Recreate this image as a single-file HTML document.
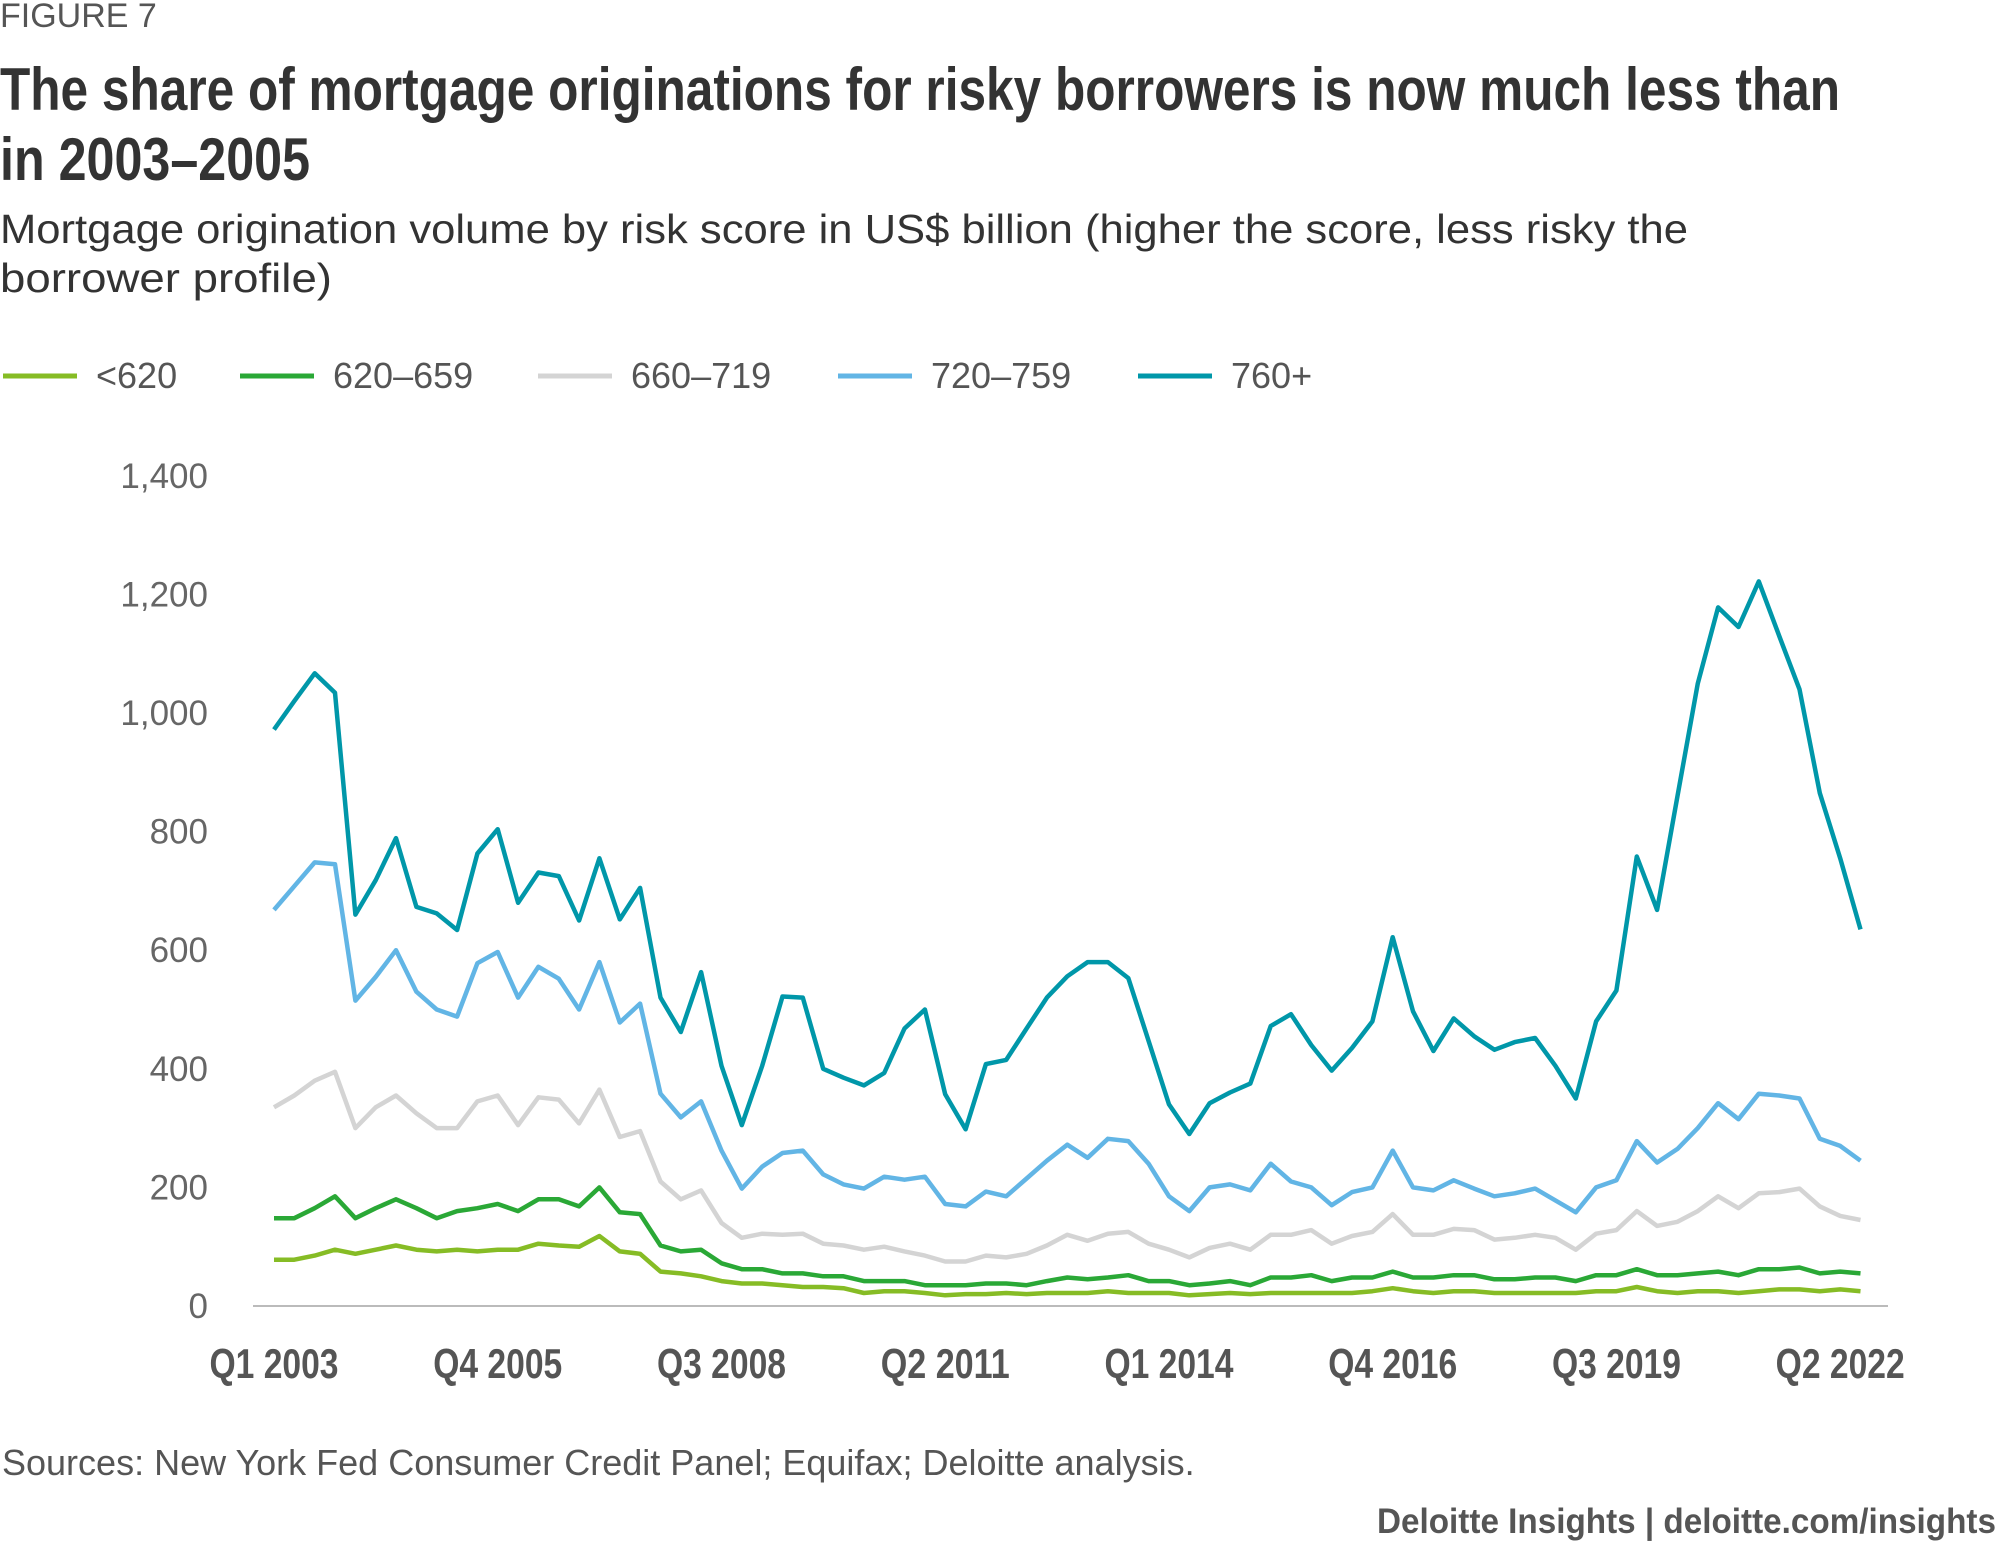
<!DOCTYPE html>
<html><head><meta charset="utf-8"><style>
html,body{margin:0;padding:0;background:#fff;}
body{width:2000px;height:1548px;position:relative;overflow:hidden;font-family:"Liberation Sans",sans-serif;}
</style></head><body>
<svg id="chart" width="2000" height="1548" style="position:absolute;left:0;top:0;" xmlns="http://www.w3.org/2000/svg" font-family="Liberation Sans, sans-serif">
<text x="0" y="27" font-size="34" fill="#555">FIGURE 7</text>
<text x="0" y="110" font-size="60" font-weight="bold" fill="#333" textLength="1840" lengthAdjust="spacingAndGlyphs">The share of mortgage originations for risky borrowers is now much less than</text>
<text x="0" y="180" font-size="60" font-weight="bold" fill="#333" textLength="310" lengthAdjust="spacingAndGlyphs">in 2003–2005</text>
<text x="0" y="243" font-size="41" fill="#333" textLength="1688" lengthAdjust="spacingAndGlyphs">Mortgage origination volume by risk score in US$ billion (higher the score, less risky the</text>
<text x="0" y="292" font-size="41" fill="#333" textLength="332" lengthAdjust="spacingAndGlyphs">borrower profile)</text>
<text x="2" y="1475" font-size="36" fill="#555">Sources: New York Fed Consumer Credit Panel; Equifax; Deloitte analysis.</text>
<text x="1996" y="1533" font-size="35" font-weight="bold" fill="#555" text-anchor="end" textLength="619" lengthAdjust="spacingAndGlyphs">Deloitte Insights | deloitte.com/insights</text>
</svg>
<script>
const seriesNames=["<620","620–659","660–719","720–759","760+"];
const seriesColors=["#86bc25","#2aa836","#d4d4d4","#62b5e5","#0097a9"];
const yTicks=[0,200,400,600,800,1000,1200,1400];
const xTickLabels=["Q1 2003","Q4 2005","Q3 2008","Q2 2011","Q1 2014","Q4 2016","Q3 2019","Q2 2022"];
const xTickIdx=[0,11,22,33,44,55,66,77];
const s620=[78,78,85,95,88,95,102,95,92,95,92,95,95,105,102,100,118,92,88,58,55,50,42,38,38,35,32,32,30,22,25,25,22,18,20,20,22,20,22,22,22,25,22,22,22,18,20,22,20,22,22,22,22,22,25,30,25,22,25,25,22,22,22,22,22,25,25,32,25,22,25,25,22,25,28,28,25,28,25];
const s659=[148,148,165,185,148,165,180,165,148,160,165,172,160,180,180,168,200,158,155,102,92,95,72,62,62,55,55,50,50,42,42,42,35,35,35,38,38,35,42,48,45,48,52,42,42,35,38,42,35,48,48,52,42,48,48,58,48,48,52,52,45,45,48,48,42,52,52,62,52,52,55,58,52,62,62,65,55,58,55];
const s719=[335,355,380,395,300,335,355,325,300,300,345,355,305,352,348,308,365,285,295,210,180,195,140,115,122,120,122,105,102,95,100,92,85,75,75,85,82,88,102,120,110,122,125,105,95,82,98,105,95,120,120,128,105,118,125,155,120,120,130,128,112,115,120,115,95,122,128,160,135,142,160,185,165,190,192,198,168,152,145];
const s759=[668,708,748,745,515,555,600,530,500,488,578,597,520,572,552,500,580,478,510,358,318,345,262,198,235,258,262,222,205,198,218,213,218,172,168,193,185,215,245,272,250,282,278,240,185,160,200,205,195,240,210,200,170,192,200,262,200,195,212,198,185,190,198,178,158,200,212,278,242,265,300,342,315,358,355,350,282,270,245];
const s760=[972,1020,1067,1034,660,718,789,673,662,634,763,804,680,731,725,650,755,652,705,520,462,563,405,305,405,522,520,400,385,372,393,468,500,357,298,408,415,468,520,556,580,580,553,447,340,290,342,360,375,472,492,440,397,435,480,622,497,430,485,455,432,445,452,405,350,480,532,758,668,860,1050,1178,1145,1222,1130,1040,865,755,635];
const allSeries=[s620,s659,s719,s759,s760];
const NS="http://www.w3.org/2000/svg";
const svg=document.getElementById('chart');
const X0=274,DX=20.34,Y0=1306,KY=0.593;
const xs=i=>X0+i*DX, ys=v=>Y0-v*KY;
function el(t,a){const e=document.createElementNS(NS,t);for(const k in a)e.setAttribute(k,a[k]);svg.appendChild(e);return e;}
const legX=[3,240,538,838,1138];
seriesNames.forEach((n,i)=>{
  const l=el('line',{x1:legX[i],x2:legX[i]+74,y1:376,y2:376,stroke:seriesColors[i],'stroke-width':5});
  
  
  const t=el('text',{x:legX[i]+93,y:388,'font-size':36,fill:'#555'});
  t.textContent=n;
  
  
});
yTicks.forEach(v=>{
  const t=el('text',{x:208,y:ys(v)+12,'text-anchor':'end','font-size':35,fill:'#666'});
  t.textContent=v.toLocaleString('en-US');
  
  
});
const ax=el('line',{x1:253,x2:1888,y1:Y0,y2:Y0,stroke:'#bbb','stroke-width':2});


xTickLabels.forEach((lab,k)=>{
  const t=el('text',{x:xs(xTickIdx[k]),y:1378,'text-anchor':'middle','font-size':42,'font-weight':'bold',fill:'#555',textLength:129,lengthAdjust:'spacingAndGlyphs'});
  t.textContent=lab;
  
  
});
allSeries.forEach((s,i)=>{
  const p=el('polyline',{points:s.map((v,j)=>xs(j).toFixed(1)+','+ys(v).toFixed(1)).join(' '),fill:'none',stroke:seriesColors[i],'stroke-width':4.5,'stroke-linejoin':'round'});
  
  
});
</script>
</body></html>
